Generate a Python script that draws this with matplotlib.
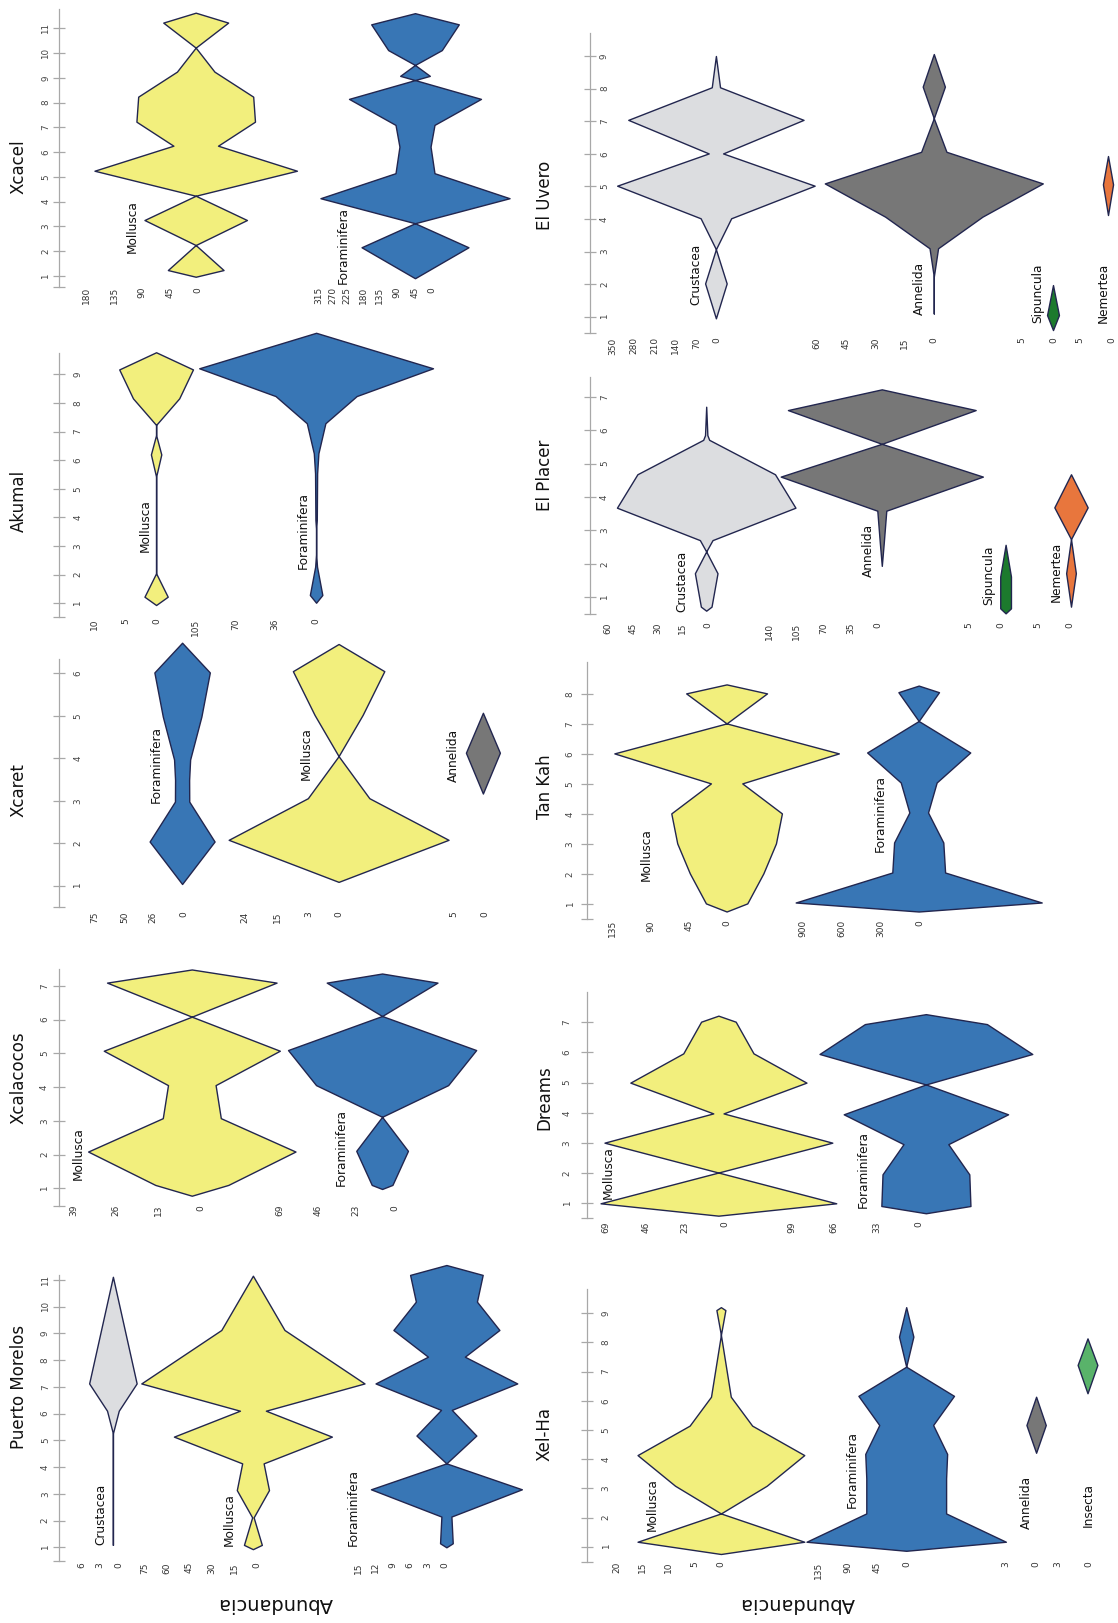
import numpy as np
import matplotlib
matplotlib.use("Agg")
import matplotlib.pyplot as plt

W, H = 1118, 1623

# ---------------- data: station positions and abundance (half-width) ----------------
# Puerto Morelos
PM_CRU_ST = [1.09, 5.26, 6.11, 7.13, 11.12]
PM_CRU_AB = [0, 0, 0.94, 3.8, 0]
PM_MOL_ST = [0.93, 1.09, 2.12, 3.14, 4.14, 5.14, 6.11, 7.13, 9.13, 11.16]
PM_MOL_AB = [0, 6, 0.5, 10.8, 7.2, 53, 8.7, 74.9, 21.2, 0]
PM_FOR_ST = [1.0, 1.15, 2.15, 3.17, 4.14, 5.18, 6.14, 7.13, 8.13, 9.13, 10.19, 11.19, 11.56]
PM_FOR_AB = [0, 1.1, 0.87, 13.1, 0, 5.2, 0.93, 12.3, 3.2, 9.2, 5.3, 6.3, 0]

# Xcalacocos
XCL_MOL_ST = [0.78, 1.10, 2.09, 3.08, 4.06, 5.08, 6.09, 7.10, 7.49]
XCL_MOL_AB = [0, 11.2, 31.8, 8.9, 7.3, 27.0, 0, 26.0, 0]
XCL_FOR_ST = [0.98, 1.10, 2.11, 3.12, 4.06, 5.10, 6.11, 7.10, 7.37]
XCL_FOR_AB = [0, 6.2, 15.5, 0, 39.6, 56.4, 0, 33.2, 0]

# Xcaret
XCR_FOR_ST = [1.04, 2.04, 2.98, 3.49, 3.97, 4.98, 6.02, 6.72]
XCR_FOR_AB = [0, 27.3, 6.0, 5.9, 6.75, 16.2, 23.3, 0]
XCR_MOL_ST = [1.09, 2.08, 3.06, 4.05, 5.02, 6.05, 6.69]
XCR_MOL_AB = [0, 27.9, 7.8, 0, 6.1, 11.6, 0]
XCR_ANN_ST = [3.17, 4.13, 5.07]
XCR_ANN_AB = [0, 2.7, 0]

# Akumal
AKU_MOL_ST = [0.94, 1.23, 2.05, 5.42, 6.2, 6.88, 7.23, 8.16, 9.17, 9.77]
AKU_MOL_AB = [0, 1.86, 0, 0, 0.83, 0, 0, 3.7, 5.9, 0]
AKU_FOR_ST = [1.02, 1.29, 2.28, 2.75, 3.56, 3.91, 5.54, 6.24, 7.29, 8.24, 9.21, 10.45]
AKU_FOR_AB = [0, 5.45, 0.8, 0, 0, 0.6, 0.9, 2.0, 8.1, 35.4, 102, 0]

# Xcacel
XCC_MOL_ST = [0.97, 1.24, 2.25, 3.26, 4.24, 5.25, 6.26, 7.23, 8.24, 9.25, 10.22, 11.23, 11.63]
XCC_MOL_AB = [0, 45.3, 0, 83.3, 0, 164.6, 36.3, 96.4, 93.5, 30.5, 0, 52.8, 0]
XCC_FOR_ST = [0.91, 2.16, 3.13, 4.14, 5.15, 6.22, 7.10, 8.15, 8.91, 9.08, 9.52, 10.12, 11.16, 11.61]
XCC_FOR_AB = [0, 175.3, 0, 310, 63.9, 51, 63.9, 216.3, 0, 48.7, 0, 87.9, 143.6, 0]

# Xel-Ha
XLH_MOL_ST = [0.75, 1.17, 2.14, 3.09, 4.14, 5.15, 6.14, 8.26, 9.11, 9.21]
XLH_MOL_AB = [0, 16.0, 0, 8.8, 16.0, 6.0, 1.9, 0, 0.86, 0]
XLH_FOR_ST = [0.86, 1.17, 2.14, 3.34, 4.18, 5.17, 6.17, 7.17, 8.2, 9.21]
XLH_FOR_AB = [0, 152.9, 61.2, 61.2, 62.8, 41.3, 73.3, 0, 11, 0]
XLH_ANN_ST = [4.22, 5.17, 6.14]
XLH_ANN_AB = [0, 0.95, 0]
XLH_INS_ST = [6.26, 7.23, 8.14]
XLH_INS_AB = [0, 0.94, 0]

# Dreams
DRM_MOL_ST = [0.59, 1.0, 2.02, 3.01, 3.98, 5.0, 5.97, 7.02, 7.22]
DRM_MOL_AB = [0, 68.8, 0, 66.5, 3, 51.4, 20.5, 10.1, 0]
DRM_FOR_ST = [0.67, 0.91, 1.96, 2.96, 3.95, 4.94, 5.95, 6.94, 7.27]
DRM_FOR_AB = [0, 34.8, 33.9, 17.5, 64.2, 0, 83.1, 47.7, 0]

# Tan Kah
TKH_MOL_ST = [0.76, 1.03, 2.03, 3.03, 4.03, 5.03, 6.03, 7.03, 8.03, 8.33]
TKH_MOL_AB = [0, 24.3, 43.2, 58, 65, 18.4, 131.9, 0, 47.5, 0]
TKH_FOR_ST = [0.76, 1.06, 2.06, 3.06, 4.06, 5.06, 6.06, 7.11, 8.07, 8.29]
TKH_FOR_AB = [0, 942.7, 202.3, 188.5, 71.6, 137.6, 395, 0, 155.5, 0]

# El Placer
EPL_CRU_ST = [0.6, 0.72, 1.72, 2.37, 2.71, 3.68, 4.68, 5.71, 5.85, 6.70]
EPL_CRU_AB = [0, 3.2, 6.8, 0, 3.8, 53.7, 41.4, 1.8, 0.7, 0]
EPL_ANN_ST = [1.94, 2.62, 3.59, 4.61, 5.59, 6.60, 7.22]
EPL_ANN_AB = [0, 2.5, 5.8, 130.5, 0, 121.2, 0]
EPL_SIP_ST = [0.52, 0.67, 1.62, 2.57]
EPL_SIP_AB = [0, 0.84, 0.84, 0]
EPL_NEM_ST = [0.72, 1.72, 2.74, 3.69, 4.68]
EPL_NEM_AB = [0, 0.75, 0, 2.58, 0]

# El Uvero
EUV_CRU_ST = [0.95, 2.02, 3.07, 4.02, 5.02, 6.01, 7.04, 8.04, 9.0]
EUV_CRU_AB = [0, 36, 0, 51, 329.7, 24, 292.6, 13.8, 0]
EUV_ANN_ST = [1.1, 2.23, 3.1, 4.07, 5.09, 6.06, 7.09, 8.06, 9.06]
EUV_ANN_AB = [0, 0, 2.2, 25, 56, 6.5, 0, 5.7, 0]
EUV_SIP_ST = [0.59, 1.05, 1.97]
EUV_SIP_AB = [0, 0.94, 0]
EUV_NEM_ST = [4.12, 5.06, 5.93]
EUV_NEM_AB = [0, 0.8, 0]

TAXON_COLORS = {
    "Crustacea": "#dcdde0",
    "Mollusca": "#f2ef7d",
    "Foraminifera": "#3876b5",
    "Annelida": "#777777",
    "Sipuncula": "#1c7a2d",
    "Nemertea": "#e8763d",
    "Insecta": "#59b36a",
}
EDGE = "#22264f"
AXIS_GRAY = "#a8a8a8"

# ---------------- layout (pixel positions on the page) ----------------
# kite tuple: taxon, stations, abundance, centre x, px per unit, ticks, tick labels, tick shift px, label (x, bottom y)
PANELS = [
    dict(title="Puerto Morelos", title_xy=(18.6, 1387), n=11, spine_x=58.9, right=555,
         top=1275, bot=1561, st1=1547.3, stn=1280, ypad=2.2, ha="right", tick_top=1562,
         kites=[("Crustacea", PM_CRU_ST, PM_CRU_AB, 112.9, 6.25, [6, 3, 0], None, 6, (101, 1545)),
                ("Mollusca", PM_MOL_ST, PM_MOL_AB, 252.9, 1.49, [75, 60, 45, 30, 15, 0], None, 3.6, (229.6, 1546)),
                ("Foraminifera", PM_FOR_ST, PM_FOR_AB, 446.4, 5.76, [15, 12, 9, 6, 3, 0], None, -1.8, (353.6, 1546))]),
    dict(title="Xcalacocos", title_xy=(18.6, 1078), n=7, spine_x=58.9, right=555,
         top=969.3, bot=1205.7, st1=1188.3, stn=986, ypad=2.9, ha="right", tick_top=1205,
         kites=[("Mollusca", XCL_MOL_ST, XCL_MOL_AB, 191.8, 3.26, [39, 26, 13, 0], None, 9.3, (78.6, 1180)),
                ("Foraminifera", XCL_FOR_ST, XCL_FOR_AB, 382.1, 1.668, [69, 46, 23, 0], None, 12.5, (341, 1185.7))]),
    dict(title="Xcaret", title_xy=(18.6, 790), n=6, spine_x=58.9, right=555,
         top=659.3, bot=906.7, st1=885.7, stn=673.3, ypad=-14.6, ha="left", tick_top=911.7,
         kites=[("Foraminifera", XCR_FOR_ST, XCR_FOR_AB, 182.1, 1.19, [75, 50, 26, 0], None, 1.8, (156, 802.7)),
                ("Mollusca", XCR_MOL_ST, XCR_MOL_AB, 338.6, 3.94, [24, 15.7, 7.8, 0], ["24", "15", "3", "0"], 0.7, (306.4, 780)),
                ("Annelida", XCR_ANN_ST, XCR_ANN_AB, 482.9, 6.29, [5, 0], None, 2.1, (453.6, 781.7))]),
    dict(title="Akumal", title_xy=(18.6, 500.7), n=9, spine_x=58.9, right=555,
         top=353.3, bot=617.3, st1=603.3, stn=374.3, ypad=-14.6, ha="left", tick_top=618.3,
         kites=[("Mollusca", AKU_MOL_ST, AKU_MOL_AB, 156.1, 6.25, [10, 5, 0], None, 1, (145.7, 552.3)),
                ("Foraminifera", AKU_FOR_ST, AKU_FOR_AB, 316.1, 1.146, [105, 70, 36, 0], None, 0, (303.6, 569.3))]),
    dict(title="Xcacel", title_xy=(18.6, 166.7), n=11, spine_x=58.9, right=555,
         top=9.3, bot=287.3, st1=276, stn=28.3, ypad=1.8, ha="right", tick_top=287,
         kites=[("Mollusca", XCC_MOL_ST, XCC_MOL_AB, 195.7, 0.615, [180, 135, 90, 45, 0], None, 1.8, (132, 253.3)),
                ("Foraminifera", XCC_FOR_ST, XCC_FOR_AB, 415, 0.305, [315, 270, 225, 170, 115, 60, 0, -55],
                 ["315", "270", "225", "180", "135", "90", "45", "0"], 0, (343, 284))]),
    dict(title="Xel-Ha", title_xy=(544.6, 1434), n=9, spine_x=586.6, right=1118,
         top=1289.3, bot=1561.7, st1=1546.7, stn=1313.3, ypad=-15.1, ha="left", tick_top=1561.5,
         kites=[("Mollusca", XLH_MOL_ST, XLH_MOL_AB, 720.9, 5.21, [20, 15, 10, 5, 0], None, 0, (652, 1530.7)),
                ("Foraminifera", XLH_FOR_ST, XLH_FOR_AB, 906.2, 0.652, [135, 90, 45, 0], None, 0.7, (852.3, 1508.3)),
                ("Annelida", XLH_ANN_ST, XLH_ANN_AB, 1036.1, 10.17, [3, 0], None, 0, (1026, 1529.3)),
                ("Insecta", XLH_INS_ST, XLH_INS_AB, 1087.5, 10.5, [3, 0], None, 1.8, (1088.2, 1526.7))]),
    dict(title="Dreams", title_xy=(544.6, 1097.3), n=7, spine_x=586.6, right=1118,
         top=991.7, bot=1217.7, st1=1203.3, stn=1022.3, ypad=6.5, ha="right", tick_top=1221.7,
         kites=[("Mollusca", DRM_MOL_ST, DRM_MOL_AB, 718.4, 1.713, [69, 46, 23, 0], None, 6.1, (608.1, 1199.3)),
                ("Foraminifera", DRM_FOR_ST, DRM_FOR_AB, 925.9, 1.28, [99, 66, 33, 0], None, -7.2, (863.1, 1208.3))]),
    dict(title="Tan Kah", title_xy=(544.6, 786.7), n=8, spine_x=586.6, right=1118,
         top=661.7, bot=918.7, st1=904.3, stn=694.3, ypad=4.3, ha="right", tick_top=920,
         kites=[("Mollusca", TKH_MOL_ST, TKH_MOL_AB, 726.6, 0.851, [135, 90, 45, 0], None, 0.7, (646.6, 880.7)),
                ("Foraminifera", TKH_FOR_ST, TKH_FOR_AB, 918.7, 0.1305, [900, 600, 300, 0], None, 1.4, (880, 852.3))]),
    dict(title="El Placer", title_xy=(544.6, 475.7), n=7, spine_x=589.8, right=1118,
         top=377.3, bot=614, st1=597.3, stn=396.7, ypad=-11.6, ha="left", tick_top=622.7,
         kites=[("Crustacea", EPL_CRU_ST, EPL_CRU_AB, 706.2, 1.662, [60, 45, 30, 15, 0], None, 1.4, (681.4, 611.7)),
                ("Annelida", EPL_ANN_ST, EPL_ANN_AB, 881.8, 0.7745, [140, 105, 70, 35, 0], None, -3.6, (868.1, 576.7)),
                ("Sipuncula", EPL_SIP_ST, EPL_SIP_AB, 1005.6, 6.39, [5, 0], None, -4.7, (988.8, 605)),
                ("Nemertea", EPL_NEM_ST, EPL_NEM_AB, 1071, 6.46, [5, 0], None, -0.7, (1055.9, 602.3))]),
    dict(title="El Uvero", title_xy=(544.6, 195), n=9, spine_x=589.8, right=1118,
         top=33.3, bot=332.7, st1=316.7, stn=56, ypad=-11.6, ha="left", tick_top=337.3,
         kites=[("Crustacea", EUV_CRU_ST, EUV_CRU_AB, 715.9, 0.2995, [350, 280, 210, 140, 70, 0], None, 1.4, (695.8, 305)),
                ("Annelida", EUV_ANN_ST, EUV_ANN_AB, 933.8, 1.946, [60, 45, 30, 15, 0], None, 0, (919.5, 315)),
                ("Sipuncula", EUV_SIP_ST, EUV_SIP_AB, 1053, 6.32, [5, 0], None, 0.4, (1038, 322.7)),
                ("Nemertea", EUV_NEM_ST, EUV_NEM_AB, 1108, 6.32, [5, 0], None, 3.6, (1103.3, 323.3))]),
]

ABUND_XY = [(275, 1603), (797.4, 1603)]

PX2PT = 72 / 100


def draw_panel(fig, p):
    x0, x1 = p["spine_x"], p["right"]
    n = p["n"]
    pps = (p["st1"] - p["stn"]) / (n - 1)
    ylim = (1 - (p["bot"] - p["st1"]) / pps, 1 + (p["st1"] - p["top"]) / pps)
    rect = [x0 / W, 1 - p["bot"] / H, (x1 - x0) / W, (p["bot"] - p["top"]) / H]

    # station axis
    ax = fig.add_axes(rect)
    ax.patch.set_visible(False)
    for k, s in ax.spines.items():
        s.set_visible(k == "left")
    ax.spines["left"].set_color(AXIS_GRAY)
    ax.spines["left"].set_linewidth(0.9)
    ax.set_ylim(*ylim)
    ax.set_xticks([])
    ax.set_yticks(range(1, n + 1), [str(i) for i in range(1, n + 1)], ha=p["ha"], va="center")
    ax.set_yticks([ylim[0]], minor=True)
    ax.tick_params(axis="y", which="both", direction="inout", length=8.6, width=0.9,
                   color=AXIS_GRAY, labelsize=6.3, labelcolor="#444444", labelrotation=90,
                   pad=p["ypad"])

    xpad = (p["tick_top"] - p["bot"]) * PX2PT
    for taxon, st, ab, cx, ppu, ticks, labels, shift, lab_xy in p["kites"]:
        ka = fig.add_axes(rect)
        ka.patch.set_visible(False)
        for s in ka.spines.values():
            s.set_visible(False)
        ka.set_xlim((cx - x0) / ppu, (cx - x1) / ppu)
        ka.set_ylim(*ylim)
        ab = np.asarray(ab, dtype=float)
        ka.fill_betweenx(st, -ab, ab, facecolor=TAXON_COLORS[taxon], edgecolor=EDGE,
                         linewidth=1.0, clip_on=False, zorder=2)
        pos = [t - shift / ppu for t in ticks]
        ka.set_xticks(pos, labels if labels else [str(t) for t in ticks])
        ka.set_yticks([])
        ka.tick_params(axis="x", length=0, pad=xpad, labelsize=6.5, labelcolor="#333333",
                       labelrotation=90)
        fig.text(lab_xy[0] / W, 1 - lab_xy[1] / H, taxon, rotation=90, ha="center",
                 va="bottom", fontsize=8.7, color="#111111")

    tx, ty = p["title_xy"]
    fig.text(tx / W, 1 - ty / H, p["title"], rotation=90, ha="center", va="center",
             fontsize=12, color="#111111")


fig = plt.figure(figsize=(W / 100, H / 100), dpi=100)
fig.patch.set_facecolor("white")

for panel in PANELS:
    draw_panel(fig, panel)

for ax_, ay_ in ABUND_XY:
    fig.text(ax_ / W, 1 - ay_ / H, "Abundancia", rotation=180, ha="center", va="center",
             fontsize=14, color="#111111")

fig.savefig("out.png", dpi=100, facecolor="white")
